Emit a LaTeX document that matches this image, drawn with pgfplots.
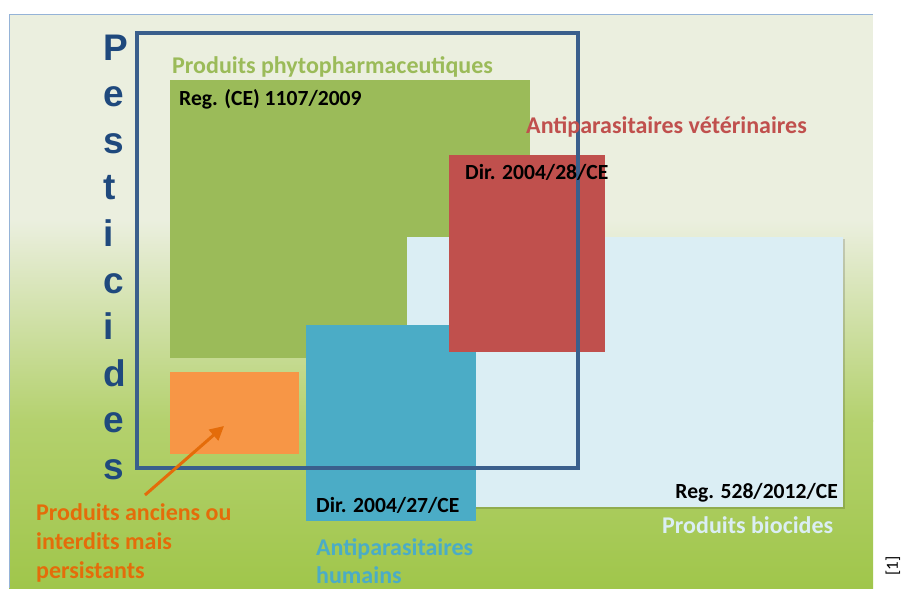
\documentclass[border=0pt]{standalone}
\usepackage{pgfplots}
\pgfplotsset{compat=1.18}
\usepackage{fontspec}
\setmainfont{Carlito}
\newfontfamily\arialf{Liberation Sans}
\usetikzlibrary{arrows.meta}
\definecolor{bgtop}{HTML}{EBEFDF}
\definecolor{bgmid}{HTML}{B4D16E}
\definecolor{bgbot}{HTML}{A0C64B}
\definecolor{grn}{HTML}{9BBB59}
\definecolor{redc}{HTML}{C0504D}
\definecolor{teal}{HTML}{4BACC6}
\definecolor{ltblue}{HTML}{DBEEF4}
\definecolor{orrect}{HTML}{F79646}
\definecolor{ortext}{HTML}{E46C0A}
\definecolor{pest}{HTML}{1F497D}
\definecolor{outl}{HTML}{3A5F8C}
\definecolor{bord}{HTML}{95B3D7}
\tikzset{pl/.style={anchor=base west, inner sep=0pt, text=pest, font=\arialf\bfseries\fontsize{37}{37}\selectfont},
  bl/.style={anchor=base west, inner sep=0pt, text=black, font=\bfseries\fontsize{21.6}{26}\selectfont},
  lab/.style={anchor=base west, inner sep=0pt, font=\bfseries\fontsize{24}{29}\selectfont}}
\begin{document}
\begin{tikzpicture}
\begin{axis}[
  width=901pt, height=588pt, scale only axis,
  xmin=0, xmax=901, ymin=0, ymax=588, y dir=reverse,
  hide axis, clip=false, no markers,
]
% canvas
\addplot[fill=white, draw=none] coordinates {(0,0) (901,0) (901,588) (0,588)} -- cycle;
% slide background
\addplot[fill=bgtop, draw=none] coordinates {(9,15) (873,15) (873,221) (9,221)} -- cycle;
\addplot[draw=none, top color=bgtop, bottom color=bgmid] coordinates {(9,220) (873,220) (873,421) (9,421)} -- cycle;
\addplot[draw=none, top color=bgmid, bottom color=bgbot] coordinates {(9,420) (873,420) (873,588) (9,588)} -- cycle;
\addplot[draw=bord, line width=1pt] coordinates {(9,588) (9,15) (873,15)};
% green box
\addplot[fill=grn, draw=none] coordinates {(170,80) (530,80) (530,358) (170,358)} -- cycle;
% biocides box with shadow
\addplot[fill=black, fill opacity=0.15, draw=none] coordinates {(408.5,238.5) (844.5,238.5) (844.5,508.5) (408.5,508.5)} -- cycle;
\addplot[fill=ltblue, draw=none] coordinates {(407,237) (843,237) (843,507) (407,507)} -- cycle;
% teal box
\addplot[fill=teal, draw=none] coordinates {(306,325) (476,325) (476,521) (306,521)} -- cycle;
% red box
\addplot[fill=redc, draw=none] coordinates {(449,155) (605,155) (605,352) (449,352)} -- cycle;
% orange box
\addplot[fill=orrect, draw=none] coordinates {(170,372) (299,372) (299,454) (170,454)} -- cycle;
% pesticides outline
\addplot[draw=outl, line width=4pt] coordinates {(137,33.5) (578,33.5) (578,467.5) (137,467.5)} -- cycle;
% arrow
\addplot[draw=ortext, line width=3pt, -{Triangle[length=14pt,width=14pt]}] coordinates {(145,495) (224,426)};

% vertical word
\node[pl] at (103,60) {P};
\node[pl] at (103,106.6) {e};
\node[pl] at (103,153.2) {s};
\node[pl] at (103,199.8) {t};
\node[pl] at (103,246.4) {i};
\node[pl] at (103,293) {c};
\node[pl] at (103,339.6) {i};
\node[pl] at (103,386.2) {d};
\node[pl] at (103,432.8) {e};
\node[pl] at (103,479.4) {s};
% labels
\node[lab, text=grn] at (172,73) {Produits phytopharmaceutiques};
\node[bl] at (179,105) {Reg. (CE) 1107/2009};
\node[lab, text=redc] at (526,133) {Antiparasitaires vétérinaires};
\node[bl] at (465,179) {Dir. 2004/28/CE};
\node[bl] at (316,512) {Dir. 2004/27/CE};
\node[bl, anchor=base east] at (838,498) {Reg. 528/2012/CE};
\node[lab, text=ltblue] at (662,533) {Produits biocides};
\node[lab, text=teal] at (316,555) {Antiparasitaires};
\node[lab, text=teal] at (316,583) {humains};
\node[lab, text=ortext] at (36,520) {Produits anciens ou};
\node[lab, text=ortext] at (36,549) {interdits mais};
\node[lab, text=ortext] at (36,578) {persistants};
\node[rotate=90, inner sep=0pt, text=black, font=\fontsize{17}{17}\selectfont] at (893,566) {[1]};
\end{axis}
\end{tikzpicture}
\end{document}
